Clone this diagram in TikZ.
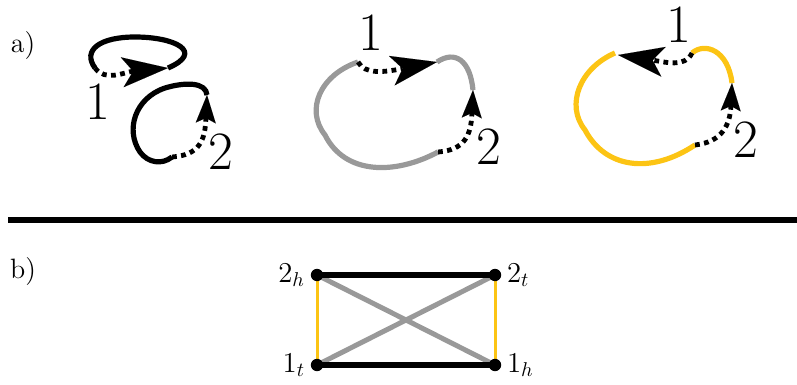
\documentclass[tikz,border=0pt]{standalone}
\usetikzlibrary{arrows.meta,backgrounds}
\definecolor{loopgray}{RGB}{153,153,153}
\definecolor{loopyellow}{RGB}{252,196,20}
\begin{document}
\begin{tikzpicture}[x=0.5pt,y=-0.5pt,
  loopline/.style={line width=2.6pt},
  dotline/.style={line width=2.4pt, dash pattern=on 2.4pt off 2.2pt},
  bigtip/.style={-{Stealth[length=23pt,width=15pt,inset=5.5pt,line width=0.01pt]}},
  smalltip/.style={-{Stealth[length=14pt,width=10pt,inset=2.5pt,line width=0.01pt]}},
  bignum/.style={font=\fontsize{27}{30}\selectfont, inner sep=0pt},
  partlabel/.style={font=\fontsize{14}{16}\selectfont, inner sep=0pt},
  vert/.style={circle, fill=black, inner sep=0pt, minimum size=6.2pt},
  vlabel/.style={font=\fontsize{14}{16}\selectfont, inner sep=2.5pt},
  blackedge/.style={line width=2.7pt, black},
  grayedge/.style={line width=2.5pt, loopgray},
  yellowedge/.style={line width=1.5pt, loopyellow}
]
\useasboundingbox (0,0) rectangle (797,385);

% part labels
\node[partlabel] (pa) at (23,46) {a)};
\node[partlabel] (pb) at (23,272) {b)};

% separator
\draw[line width=3.3pt] (8,220) -- (797,220);

% ---------- black loops ----------
\draw[loopline] (95,68) .. controls (82,50) and (100,37) .. (135,37)
                        .. controls (175,37) and (205,52) .. (168,68);
\draw[dotline,bigtip] (95,68) .. controls (105,82) and (125,72) .. (168,68);
\draw[loopline] (207,95) .. controls (206,82) and (185,82) .. (165,88)
                         .. controls (135,98) and (125,130) .. (140,152)
                         .. controls (148,163) and (162,165) .. (172,157);
\draw[dotline,smalltip] (172,157) .. controls (200,155) and (205,140) .. (207,95);
\node[bignum] (b1) at (98,102) {1};
\node[bignum] (b2) at (221,152) {2};

% ---------- gray loop ----------
\draw[loopline,loopgray] (358,62) .. controls (320,75) and (305,110) .. (325,135)
                                  .. controls (345,175) and (395,175) .. (438,152);
\draw[loopline,loopgray] (437,62) .. controls (455,50) and (470,60) .. (473,90);
\draw[dotline,bigtip] (358,62) .. controls (365,75) and (385,72) .. (437,62);
\draw[dotline,smalltip] (438,152) .. controls (465,150) and (471,135) .. (473,90);
\node[bignum] (g1) at (371,33) {1};
\node[bignum] (g2) at (489,147) {2};

% ---------- yellow loop ----------
\draw[loopline,loopyellow] (615,53) .. controls (580,68) and (565,105) .. (585,130)
                                    .. controls (605,168) and (650,175) .. (695,145);
\draw[loopline,loopyellow] (692,53) .. controls (705,42) and (728,50) .. (732,83);
\draw[dotline,bigtip] (692,53) .. controls (685,68) and (665,62) .. (618,55);
\draw[dotline,smalltip] (695,145) .. controls (722,142) and (730,125) .. (732,83);
\node[bignum] (y1) at (679,25) {1};
\node[bignum] (y2) at (746,140) {2};

% ---------- part b graph ----------
\node[vert, label={[vlabel]left:$2_h$}] (v2h) at (317,275) {};
\node[vert, label={[vlabel]right:$2_t$}] (v2t) at (495,275) {};
\node[vert, label={[vlabel]left:$1_t$}] (v1t) at (317,365) {};
\node[vert, label={[vlabel]right:$1_h$}] (v1h) at (495,365) {};
\begin{scope}[on background layer]
\draw[yellowedge] (v2h.center) -- (v1t.center);
\draw[yellowedge] (v2t.center) -- (v1h.center);
\draw[grayedge] (v2h.center) -- (v1h.center);
\draw[grayedge] (v1t.center) -- (v2t.center);
\draw[blackedge] (v2h.center) -- (v2t.center);
\draw[blackedge] (v1t.center) -- (v1h.center);
\end{scope}
\end{tikzpicture}
\end{document}
